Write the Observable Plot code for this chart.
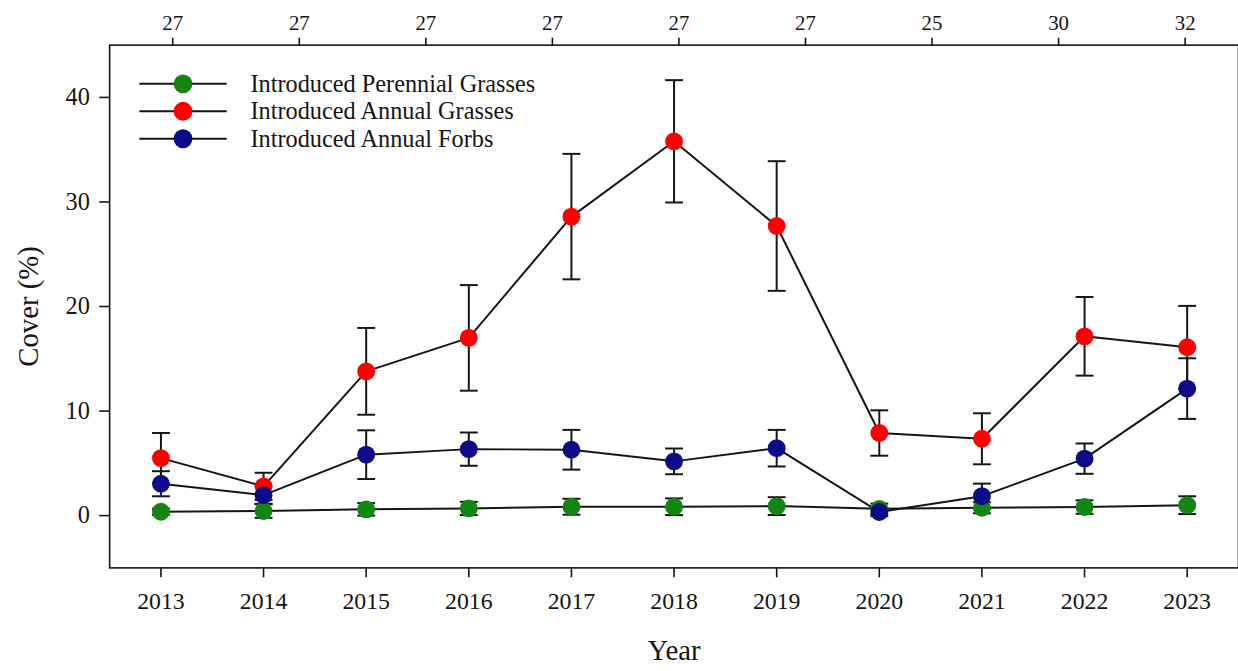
<!DOCTYPE html>
<html>
<head>
<meta charset="utf-8">
<script src="https://cdn.jsdelivr.net/npm/d3@7"></script>
<script src="https://cdn.jsdelivr.net/npm/@observablehq/plot@0.6"></script>
<style>
  html, body { margin: 0; padding: 0; background: #fff; overflow: hidden; }
  #chart svg { display: block; }
</style>
</head>
<body>
<div id="chart"></div>
<script>
// Survey years
const years = [2013, 2014, 2015, 2016, 2017, 2018, 2019, 2020, 2021, 2022, 2023];

// Mean cover (%) and standard error per functional group
const perennialGrassMean = [0.37, 0.44, 0.60, 0.69, 0.85, 0.85, 0.91, 0.65, 0.75, 0.82, 1.00];
const perennialGrassSE   = [0.30, 0.65, 0.60, 0.63, 0.76, 0.80, 0.85, 0.50, 0.53, 0.65, 0.85];
const annualGrassMean    = [5.50, 2.80, 13.80, 17.00, 28.60, 35.80, 27.70, 7.90, 7.35, 17.15, 16.10];
const annualGrassSE      = [2.40, 1.30, 4.15, 5.05, 6.00, 5.85, 6.20, 2.17, 2.44, 3.76, 3.96];
const annualForbMean     = [3.05, 1.96, 5.83, 6.36, 6.30, 5.19, 6.45, 0.35, 1.86, 5.45, 12.15];
const annualForbSE       = [1.20, 0.83, 2.33, 1.59, 1.90, 1.23, 1.75, 0.40, 1.20, 1.45, 2.90];

const seriesNames = ["Introduced Perennial Grasses", "Introduced Annual Grasses", "Introduced Annual Forbs"];
const seriesColors = ["#138513", "#fe0000", "#0c0c88"];

// Sample-size labels along the top axis
const topLabels = ["27", "27", "27", "27", "27", "27", "25", "30", "32"];

const yTicks = [0, 10, 20, 30, 40];

// Long-format table built from the arrays above
const seriesData = [
  [perennialGrassMean, perennialGrassSE],
  [annualGrassMean, annualGrassSE],
  [annualForbMean, annualForbSE]
];
const rows = seriesData.flatMap(([means, ses], s) =>
  years.map((year, i) => ({series: seriesNames[s], year, mean: means[i], se: ses[i]}))
);

// Top axis: nine evenly spaced sample-size ticks across the panel
const topScale = d3.scalePoint().domain(d3.range(topLabels.length)).range([2013.115, 2022.98]);
const topTicks = topLabels.map((_, i) => topScale(i));
const topLabelOf = new Map(topTicks.map((t, i) => [t, topLabels[i]]));

// Horizontal-line symbol for error-bar caps and legend lines (half-width = r)
const hLine = {
  draw(ctx, size) {
    const w = Math.sqrt(size / Math.PI);
    ctx.moveTo(-w, 0);
    ctx.lineTo(w, 0);
  }
};

const ink = "#151515";

// Legend in the upper-left corner of the panel
const legendMarks = seriesNames.flatMap((name, i) => {
  const dy = 39 + i * 27.7;
  return [
    Plot.dot([name], {frameAnchor: "top-left", dx: 74, dy, symbol: hLine, r: 44, fill: "none", stroke: ink, strokeWidth: 2}),
    Plot.dot([name], {frameAnchor: "top-left", dx: 74, dy, r: 9.5, fill: seriesColors[i], stroke: "none"}),
    Plot.text([name], {frameAnchor: "top-left", dx: 142, dy, text: d => d, textAnchor: "start", lineAnchor: "middle", fontSize: 24.5, fill: ink})
  ];
});

const chart = Plot.plot({
  width: 1248,
  height: 671,
  marginLeft: 110,
  marginRight: 0,
  marginTop: 45,
  marginBottom: 99,
  style: {fontFamily: "'Liberation Serif', 'Times New Roman', serif", background: "#fff", color: ink},
  x: {domain: [2012.5, 2023.5]},
  y: {domain: [-5, 45]},
  color: {domain: seriesNames, range: seriesColors},
  marks: [
    Plot.axisY({ticks: yTicks, tickSize: 10, tickPadding: 10, fontSize: 24.5, label: null, strokeWidth: 1.6}),
    Plot.axisX({ticks: years, tickFormat: "d", tickSize: 10, tickPadding: 14, fontSize: 24, label: null, strokeWidth: 1.6}),
    Plot.axisX(topTicks, {anchor: "top", tickFormat: d => topLabelOf.get(d), tickSize: 8, tickPadding: 7, fontSize: 21, label: null, strokeWidth: 1.6}),
    Plot.frame({stroke: ink, strokeWidth: 1.6}),
    // connecting lines
    Plot.line(rows, {x: "year", y: "mean", z: "series", stroke: ink, strokeWidth: 2}),
    // error bars with caps
    Plot.ruleX(rows, {x: "year", y1: d => d.mean - d.se, y2: d => d.mean + d.se, stroke: ink, strokeWidth: 2}),
    Plot.dot(rows, {x: "year", y: d => d.mean + d.se, symbol: hLine, r: 9, fill: "none", stroke: ink, strokeWidth: 2}),
    Plot.dot(rows, {x: "year", y: d => d.mean - d.se, symbol: hLine, r: 9, fill: "none", stroke: ink, strokeWidth: 2}),
    // means
    Plot.dot(rows, {x: "year", y: "mean", fill: "series", r: 9, stroke: "none"}),
    ...legendMarks,
    // axis titles
    Plot.text(["Cover (%)"], {frameAnchor: "left", dx: -82, rotate: -90, text: d => d, fontSize: 29, textAnchor: "middle", lineAnchor: "middle", fill: ink}),
    Plot.text(["Year"], {frameAnchor: "bottom", dy: 84, text: d => d, fontSize: 29, textAnchor: "middle", lineAnchor: "middle", fill: ink})
  ]
});

document.getElementById("chart").append(chart);
</script>
</body>
</html>
